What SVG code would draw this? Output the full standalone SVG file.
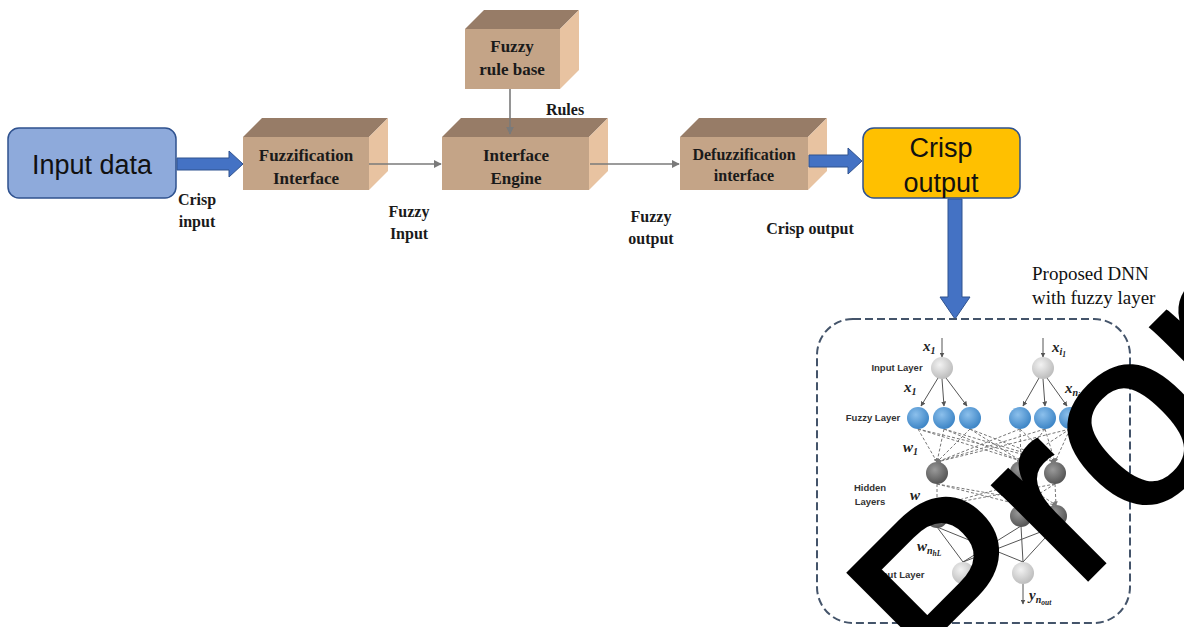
<svg xmlns="http://www.w3.org/2000/svg" width="1184" height="627" viewBox="0 0 1184 627">
<defs>
<style>
.top{fill:#977c67}
.front{fill:#c4a487}
.side{fill:#e8c3a1}
.bl{font-family:"Liberation Serif",serif;font-weight:bold;fill:#1a1a1a;text-anchor:middle}
.bx{font-size:17px}
.lb{font-size:16px}
.big{font-family:"Liberation Sans",Arial,sans-serif;font-size:27px;fill:#111;text-anchor:middle}
.barrow{fill:#4472c4;stroke:#2f528f;stroke-width:1}
.conn{stroke:#7a7a7a;stroke-width:1.6;fill:none}
.nn{font-family:"Liberation Sans",Arial,sans-serif;font-weight:bold;font-size:9.5px;fill:#333;text-anchor:middle}
.mth{font-family:"Liberation Serif",serif;font-weight:bold;font-style:italic;font-size:15px;fill:#222}
.sub{font-size:10px}
.ss{font-size:7.5px}
.nl{stroke:#555;stroke-width:1;fill:none}
.nd{stroke:#777;stroke-width:1;stroke-dasharray:3,2;fill:none}
.wm{font-family:"Liberation Sans",Arial,sans-serif;font-size:252px;fill:#000;stroke:#000;stroke-width:4}
</style>
<marker id="ah" viewBox="0 0 10 10" refX="9" refY="5" markerWidth="8" markerHeight="8" orient="auto" markerUnits="userSpaceOnUse"><path d="M0,0 L10,5 L0,10 z" fill="#7a7a7a"/></marker>
<marker id="ah2" viewBox="0 0 10 10" refX="9" refY="5" markerWidth="5" markerHeight="5" orient="auto" markerUnits="userSpaceOnUse"><path d="M0,0 L10,5 L0,10 z" fill="#555"/></marker>
<marker id="ah3" viewBox="0 0 10 10" refX="9" refY="5" markerWidth="4" markerHeight="4" orient="auto" markerUnits="userSpaceOnUse"><path d="M0,0 L10,5 L0,10 z" fill="#777"/></marker>
<radialGradient id="gl" cx="40%" cy="35%" r="65%"><stop offset="0" stop-color="#f2f2f2"/><stop offset="1" stop-color="#bdbdbd"/></radialGradient>
<radialGradient id="gb" cx="40%" cy="35%" r="65%"><stop offset="0" stop-color="#8cc0ec"/><stop offset="1" stop-color="#3d85c6"/></radialGradient>
<radialGradient id="gd" cx="40%" cy="35%" r="65%"><stop offset="0" stop-color="#9a9a9a"/><stop offset="1" stop-color="#555"/></radialGradient>
</defs>
<rect width="1184" height="627" fill="#fff"/>

<g id="input-data">
<rect x="8" y="128" width="168" height="70" rx="11" fill="#8eaadb" stroke="#2f528f" stroke-width="1.5"/>
<text class="big" x="92" y="174">Input data</text>
</g>

<g id="fuzzification">
<polygon class="top" points="243,137 262,118 388,118 369,137"/>
<polygon class="side" points="369,137 388,118 388,171 369,190"/>
<rect class="front" x="243" y="137" width="126" height="53"/>
<text class="bl bx" x="306" y="161">Fuzzification</text>
<text class="bl bx" x="306" y="184">Interface</text>
</g>

<g id="rule-base">
<polygon class="top" points="465,29 484,10 579,10 560,29"/>
<polygon class="side" points="560,29 579,10 579,70 560,89"/>
<rect class="front" x="465" y="29" width="95" height="60"/>
<text class="bl bx" x="512" y="52">Fuzzy</text>
<text class="bl bx" x="512" y="75">rule base</text>
</g>

<g id="engine">
<polygon class="top" points="442,137 461,118 608,118 589,137"/>
<polygon class="side" points="589,137 608,118 608,171 589,190"/>
<rect class="front" x="442" y="137" width="147" height="53"/>
<text class="bl bx" x="516" y="161">Interface</text>
<text class="bl bx" x="516" y="184">Engine</text>
</g>

<g id="defuzzification">
<polygon class="top" points="680,137 699,118 827,118 808,137"/>
<polygon class="side" points="808,137 827,118 827,171 808,190"/>
<rect class="front" x="680" y="137" width="128" height="53"/>
<text class="bl lb" x="744" y="160">Defuzzification</text>
<text class="bl lb" x="744" y="181">interface</text>
</g>

<g id="crisp-output">
<rect x="863" y="128" width="157" height="70" rx="11" fill="#ffc000" stroke="#2f528f" stroke-width="1.5"/>
<text class="big" x="941" y="157">Crisp</text>
<text class="big" x="941" y="192">output</text>
</g>

<g id="connectors">
<line class="conn" x1="369" y1="164" x2="441" y2="164" marker-end="url(#ah)"/>
<line class="conn" x1="590" y1="164" x2="679" y2="164" marker-end="url(#ah)"/>
<line class="conn" x1="510" y1="89" x2="510" y2="134" marker-end="url(#ah)"/>
<path class="barrow" d="M177,158 H229 V151 L243,164 L229,177 V170 H177 Z"/>
<path class="barrow" d="M809,155 H848 V148 L862,161 L848,174 V167 H809 Z"/>
<path class="barrow" d="M948,199 H962 V297 H970 L955,319 L940,297 H948 Z"/>
</g>

<g id="labels">
<text class="bl lb" x="197" y="205">Crisp</text>
<text class="bl lb" x="197" y="227">input</text>
<text class="bl lb" x="409" y="217">Fuzzy</text>
<text class="bl lb" x="409" y="239">Input</text>
<text class="bl lb" x="565" y="115">Rules</text>
<text class="bl lb" x="651" y="222">Fuzzy</text>
<text class="bl lb" x="651" y="244">output</text>
<text class="bl lb" x="810" y="234">Crisp output</text>
<text x="1032" y="280" font-family="Liberation Serif,serif" font-size="19" fill="#111">Proposed DNN</text>
<text x="1032" y="304" font-family="Liberation Serif,serif" font-size="19" fill="#111">with fuzzy layer</text>
</g>

<g id="dnn">
<rect x="817" y="319" width="313" height="304" rx="36" fill="none" stroke="#44546a" stroke-width="2" stroke-dasharray="8,4"/>
<line class="nl" x1="942" y1="338" x2="942" y2="357" marker-end="url(#ah2)"/>
<line class="nl" x1="1043" y1="338" x2="1043" y2="357" marker-end="url(#ah2)"/>
<line class="nl" x1="938" y1="378" x2="921" y2="406" marker-end="url(#ah2)"/>
<line class="nl" x1="942" y1="379" x2="944" y2="406" marker-end="url(#ah2)"/>
<line class="nl" x1="946" y1="378" x2="967" y2="406" marker-end="url(#ah2)"/>
<line class="nl" x1="1039" y1="378" x2="1023" y2="406" marker-end="url(#ah2)"/>
<line class="nl" x1="1043" y1="379" x2="1045" y2="406" marker-end="url(#ah2)"/>
<line class="nl" x1="1047" y1="378" x2="1067" y2="406" marker-end="url(#ah2)"/>
<g class="nd" marker-end="url(#ah3)">
<line x1="918" y1="429" x2="937" y2="462"/><line x1="918" y1="429" x2="1021" y2="461"/><line x1="918" y1="429" x2="1055" y2="462"/>
<line x1="944" y1="429" x2="937" y2="462"/><line x1="944" y1="429" x2="1021" y2="461"/><line x1="944" y1="429" x2="1055" y2="462"/>
<line x1="970" y1="429" x2="937" y2="462"/><line x1="970" y1="429" x2="1021" y2="461"/><line x1="970" y1="429" x2="1055" y2="462"/>
<line x1="1020" y1="429" x2="937" y2="462"/><line x1="1020" y1="429" x2="1021" y2="461"/><line x1="1020" y1="429" x2="1055" y2="462"/>
<line x1="1045" y1="429" x2="937" y2="462"/><line x1="1045" y1="429" x2="1021" y2="461"/><line x1="1045" y1="429" x2="1055" y2="462"/>
<line x1="1070" y1="429" x2="937" y2="462"/><line x1="1070" y1="429" x2="1021" y2="461"/><line x1="1070" y1="429" x2="1055" y2="462"/>
<line x1="937" y1="484" x2="937" y2="506"/><line x1="937" y1="484" x2="1021" y2="505"/><line x1="937" y1="484" x2="1056" y2="505"/>
<line x1="1021" y1="483" x2="937" y2="506"/><line x1="1021" y1="483" x2="1021" y2="505"/><line x1="1021" y1="483" x2="1056" y2="505"/>
<line x1="1055" y1="484" x2="937" y2="506"/><line x1="1055" y1="484" x2="1021" y2="505"/><line x1="1055" y1="484" x2="1056" y2="505"/>
</g>
<line class="nl" x1="937" y1="527" x2="963" y2="562"/><line class="nl" x1="937" y1="527" x2="1023" y2="562"/>
<line class="nl" x1="1021" y1="526" x2="963" y2="562"/><line class="nl" x1="1021" y1="526" x2="1023" y2="562"/>
<line class="nl" x1="1056" y1="526" x2="963" y2="562"/><line class="nl" x1="1056" y1="526" x2="1023" y2="562"/>
<line class="nl" x1="963" y1="584" x2="963" y2="604" marker-end="url(#ah2)"/>
<line class="nl" x1="1023" y1="584" x2="1023" y2="604" marker-end="url(#ah2)"/>
<circle cx="942" cy="368" r="11" fill="url(#gl)"/>
<circle cx="1043" cy="368" r="11" fill="url(#gl)"/>
<circle cx="918" cy="418" r="11" fill="url(#gb)"/>
<circle cx="944" cy="418" r="11" fill="url(#gb)"/>
<circle cx="970" cy="418" r="11" fill="url(#gb)"/>
<circle cx="1020" cy="418" r="11" fill="url(#gb)"/>
<circle cx="1045" cy="418" r="11" fill="url(#gb)"/>
<circle cx="1070" cy="418" r="11" fill="url(#gb)"/>
<circle cx="937" cy="473" r="11" fill="url(#gd)"/>
<circle cx="1021" cy="472" r="11" fill="url(#gd)"/>
<circle cx="1055" cy="473" r="11" fill="url(#gd)"/>
<circle cx="937" cy="517" r="11" fill="url(#gd)"/>
<circle cx="1021" cy="516" r="11" fill="url(#gd)"/>
<circle cx="1056" cy="516" r="11" fill="url(#gd)"/>
<circle cx="963" cy="573" r="11" fill="url(#gl)"/>
<circle cx="1023" cy="573" r="11" fill="url(#gl)"/>
<text class="nn" x="897" y="371">Input Layer</text>
<text class="nn" x="873" y="421">Fuzzy Layer</text>
<text class="nn" x="870" y="491">Hidden</text>
<text class="nn" x="870" y="505">Layers</text>
<text class="nn" x="895" y="578">Output Layer</text>
<text class="mth" x="923" y="351">x<tspan class="sub" dy="3">1</tspan></text>
<text class="mth" x="1052" y="352">x<tspan class="sub" dy="3">i</tspan><tspan class="ss" dy="2">1</tspan></text>
<text class="mth" x="904" y="392">x<tspan class="sub" dy="3">1</tspan></text>
<text class="mth" x="1065" y="393">x<tspan class="sub" dy="3">n</tspan><tspan class="ss" dy="2">in</tspan></text>
<text class="mth" x="903" y="452">w<tspan class="sub" dy="3">1</tspan></text>
<text class="mth" x="910" y="500">w</text>
<text class="mth" x="917" y="551">w<tspan class="sub" dy="3">n</tspan><tspan class="ss" dy="2">hL</tspan></text>
<text class="mth" x="1029" y="600">y<tspan class="sub" dy="3">n</tspan><tspan class="ss" dy="2">out</tspan></text>
</g>

<text class="wm" x="957" y="710" transform="rotate(-45 957 710)">Prop</text>
</svg>
